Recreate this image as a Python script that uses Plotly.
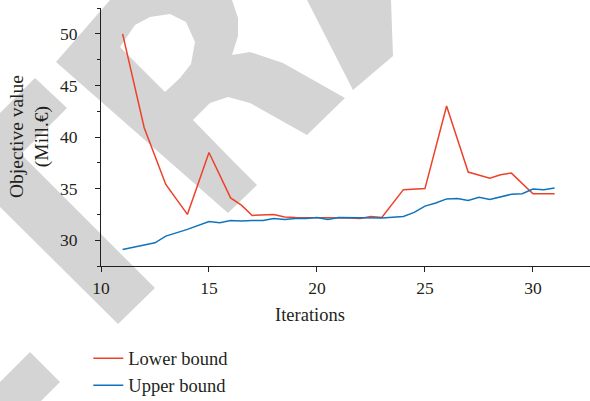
import plotly.graph_objects as go

# Lower bound of the objective per iteration
lower_iter = [11, 12, 13, 14, 15, 16, 16.5, 17, 18, 18.5, 19, 19.5, 20, 20.5, 21,
              21.5, 22, 22.5, 23, 24, 25, 26, 26.5, 27, 28, 28.5, 29, 30, 31]
lower_val = [50.0, 40.9, 35.4, 32.5, 38.5, 34.1, 33.4, 32.4, 32.5, 32.25, 32.2, 32.2,
             32.2, 32.2, 32.2, 32.15, 32.1, 32.3, 32.2, 34.9, 35.0, 43.0, 39.8, 36.6,
             36.0, 36.35, 36.5, 34.5, 34.5]

# Upper bound of the objective per iteration
upper_iter = [11, 12, 12.5, 13, 13.5, 14, 15, 15.5, 16, 16.5, 17, 17.5, 18, 18.5, 19,
              19.5, 20, 20.5, 21, 22, 23, 24, 24.5, 25, 25.5, 26, 26.5, 27, 27.5, 28,
              28.5, 29, 29.5, 30, 30.5, 31]
upper_val = [29.1, 29.5, 29.75, 30.4, 30.7, 31.05, 31.8, 31.7, 31.9, 31.85, 31.9, 31.9,
             32.1, 32.0, 32.1, 32.1, 32.2, 32.0, 32.2, 32.2, 32.15, 32.3, 32.7, 33.3,
             33.6, 34.0, 34.05, 33.85, 34.15, 33.95, 34.2, 34.45, 34.5, 34.95, 34.9, 35.05]

x_ticks = [10, 15, 20, 25, 30]
y_ticks = [30, 35, 40, 45, 50]

FONT = "Liberation Serif"
INK = "#231f20"
STAMP = "#d4d4d4"

# Page geometry (pixels) used to place the decorative stamp in paper space
W, H = 590, 401
ML, MR, MT, MB = 101, 0, 8, 135
PW, PH = W - ML - MR, H - MT - MB

# Light grey lettering stamped diagonally across the page
stamp_outlines = [
    # chevron-shaped stroke on the left
    [(35, 78), (67, 108), (21, 154), (155, 288), (118, 324), (0, 207), (0, 113)],
    # corner piece at the bottom left
    [(30, 352), (60, 382), (41, 401), (0, 401), (0, 382)],
    # large letter with its bowl and leg
    [(110, 0), (232, 0), (238, 18), (238, 36), (232, 55), (250, 52), (283, 63),
     (345, 98), (307, 135), (250, 103), (228, 97), (210, 103), (193, 120),
     (232, 160), (257, 185), (228, 213), (56, 62)],
    # narrow stroke at the top right
    [(307, 0), (391, 0), (393, 56), (353, 90)],
]
stamp_holes = [
    [(120, 47), (135, 25), (150, 17), (170, 14), (186, 22), (195, 42), (191, 64),
     (180, 78), (165, 92)],
]


def to_paper(pt):
    px, py = pt
    return (px - ML) / PW, (H - MB - py) / PH


def svg_path(rings):
    parts = []
    for ring in rings:
        pts = [to_paper(p) for p in ring]
        parts.append("M" + " L".join(f"{x:.4f},{y:.4f}" for x, y in pts) + " Z")
    return " ".join(parts)


fig = go.Figure()
fig.add_trace(go.Scatter(x=lower_iter, y=lower_val, mode="lines", name="Lower bound",
                         line=dict(color="#ee4129", width=1.5)))
fig.add_trace(go.Scatter(x=upper_iter, y=upper_val, mode="lines", name="Upper bound",
                         line=dict(color="#0e74bb", width=1.5)))

for i, outline in enumerate(stamp_outlines):
    rings = [outline] + (stamp_holes if i == 2 else [])
    fig.add_shape(type="path", path=svg_path(rings), xref="paper", yref="paper",
                  fillcolor=STAMP, line=dict(width=0), layer="below",
                  fillrule="evenodd")

fig.update_layout(
    width=W, height=H,
    margin=dict(l=ML, r=MR, t=MT, b=MB, autoexpand=False),
    paper_bgcolor="white", plot_bgcolor="rgba(0,0,0,0)",
    font=dict(family=FONT, size=18, color=INK),
    showlegend=True,
    legend=dict(x=-0.026, xanchor="left", y=-0.2856, yanchor="top",
                font=dict(family=FONT, size=18.5, color=INK),
                bgcolor="rgba(0,0,0,0)", itemwidth=30, tracegroupgap=0),
)
fig.update_xaxes(
    range=[10, 32.64], tickvals=x_ticks, ticks="outside", ticklen=5, tickwidth=1,
    tickcolor=INK, showline=True, linecolor=INK, linewidth=1, showgrid=False,
    zeroline=False, ticklabelstandoff=1, automargin=False,
    tickfont=dict(family=FONT, size=17.5, color=INK),
)
fig.update_yaxes(
    range=[27.5, 52.5], tickvals=y_ticks, ticks="outside", ticklen=5, tickwidth=1,
    tickcolor=INK, showline=True, linecolor=INK, linewidth=1, showgrid=False,
    zeroline=False, ticklabelstandoff=14, automargin=False,
    tickfont=dict(family=FONT, size=17.5, color=INK),
    minor=dict(dtick=2.5, tick0=27.5, ticks="outside", ticklen=3, tickcolor=INK),
)

# Axis titles
fig.add_annotation(text="Iterations", xref="paper", yref="paper",
                   x=(310 - ML) / PW, y=-49 / PH, xanchor="center", yanchor="middle",
                   showarrow=False, font=dict(family=FONT, size=18.5, color=INK))
fig.add_annotation(text="Objective value<br>(Mill.€)", xref="paper", yref="paper",
                   x=-72 / PW, y=0.5, xanchor="center", yanchor="middle", textangle=-90,
                   showarrow=False, font=dict(family=FONT, size=19.5, color=INK))

fig.write_html("out.html")
